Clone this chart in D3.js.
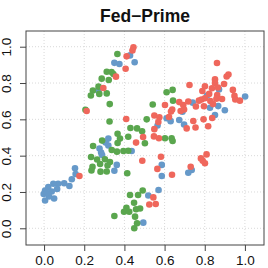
<!DOCTYPE html>
<html>
<head>
<meta charset="utf-8">
<script src="https://cdn.jsdelivr.net/npm/d3@7"></script>
<style>
  body { margin: 0; background: #fff; }
  svg text { font-family: "Liberation Sans", Arial, Helvetica, sans-serif; }
</style>
</head>
<body>
<div id="chart"></div>
<script>
const title = 'Fed\u2212Prime';
const ticks = [0, 0.2, 0.4, 0.6, 0.8, 1.0];

// [x, y] pairs per group
const redPts = [
  [0.445, 0.997], [0.440, 0.979], [0.411, 0.947], [0.406, 0.879], [0.358, 0.835],
  [0.295, 0.773], [0.212, 0.646], [0.409, 0.602], [0.493, 0.503], [0.458, 0.472],
  [0.547, 0.506], [0.572, 0.496], [0.861, 0.910], [0.918, 0.847], [0.909, 0.836],
  [0.851, 0.820], [0.851, 0.800], [0.896, 0.795], [0.801, 0.782], [0.724, 0.789],
  [0.836, 0.771], [0.866, 0.775], [0.788, 0.756], [0.822, 0.740], [0.862, 0.734],
  [0.940, 0.762], [0.948, 0.729], [0.952, 0.709], [0.975, 0.703], [0.784, 0.709],
  [0.771, 0.703], [0.801, 0.716], [0.718, 0.698], [0.756, 0.671], [0.796, 0.672],
  [0.858, 0.713], [0.886, 0.712], [0.828, 0.701], [0.841, 0.684], [0.673, 0.695],
  [0.693, 0.679], [0.697, 0.654], [0.680, 0.646], [0.602, 0.679], [0.638, 0.654],
  [0.632, 0.643], [0.549, 0.621], [0.574, 0.611], [0.569, 0.585], [0.549, 0.546],
  [0.743, 0.591], [0.794, 0.600], [0.837, 0.607], [0.817, 0.562], [0.710, 0.550],
  [0.754, 0.555], [0.582, 0.394], [0.489, 0.372], [0.564, 0.327], [0.637, 0.295],
  [0.809, 0.407], [0.781, 0.385], [0.790, 0.372], [0.801, 0.358], [0.730, 0.339],
  [0.544, 0.170], [0.524, 0.131], [0.556, 0.134], [0.176, 0.288], [0.622, 0.613]
];
const bluePts = [
  [0.428, 0.952], [0.451, 0.914], [0.350, 0.911], [0.375, 0.905], [0.270, 0.758],
  [1.001, 0.726], [0.871, 0.765], [0.811, 0.731], [0.740, 0.692], [0.867, 0.673],
  [0.826, 0.664], [0.900, 0.650], [0.851, 0.624], [0.689, 0.642], [0.610, 0.606],
  [0.630, 0.590], [0.673, 0.596], [0.565, 0.566], [0.697, 0.572], [0.586, 0.349],
  [0.586, 0.288], [0.735, 0.321], [0.718, 0.306], [0.436, 0.426], [0.570, 0.211],
  [0.519, 0.181], [0.494, 0.031], [0.320, 0.494], [0.306, 0.472], [0.320, 0.456],
  [0.276, 0.439], [0.284, 0.417], [0.289, 0.404], [0.350, 0.317], [0.362, 0.349],
  [0.154, 0.330], [0.157, 0.299], [0.138, 0.270], [0.100, 0.248], [0.126, 0.233],
  [0.070, 0.245], [0.046, 0.245], [0.021, 0.227], [0.065, 0.216], [0.038, 0.203],
  [0.005, 0.208], [-0.002, 0.189], [0.025, 0.175], [0.050, 0.164], [0.005, 0.153],
  [0.015, 0.194]
];
const greenPts = [
  [0.365, 0.960], [0.312, 0.862], [0.336, 0.861], [0.345, 0.850], [0.322, 0.817],
  [0.287, 0.824], [0.271, 0.780], [0.243, 0.759], [0.275, 0.740], [0.233, 0.731],
  [0.312, 0.743], [0.327, 0.684], [0.206, 0.653], [0.326, 0.588], [0.430, 0.552],
  [0.463, 0.550], [0.488, 0.534], [0.366, 0.521], [0.419, 0.504], [0.378, 0.494],
  [0.366, 0.470], [0.502, 0.468], [0.289, 0.483], [0.244, 0.453], [0.337, 0.431],
  [0.363, 0.422], [0.395, 0.426], [0.419, 0.427], [0.234, 0.393], [0.264, 0.379],
  [0.303, 0.380], [0.328, 0.365], [0.279, 0.354], [0.316, 0.346], [0.241, 0.338],
  [0.236, 0.318], [0.281, 0.312], [0.312, 0.313], [0.414, 0.303], [0.428, 0.183],
  [0.468, 0.183], [0.491, 0.208], [0.448, 0.141], [0.410, 0.113], [0.398, 0.091],
  [0.424, 0.091], [0.458, 0.105], [0.478, 0.109], [0.350, 0.068], [0.453, 0.064],
  [0.463, 0.028], [0.449, 0.000], [0.541, 0.682], [0.511, 0.600], [0.610, 0.749],
  [0.640, 0.762], [0.642, 0.703], [0.602, 0.496], [0.635, 0.496], [0.640, 0.481]
];

const groups = [
  { pts: bluePts, color: '#6699c9' },
  { pts: greenPts, color: '#5aa64e' },
  { pts: redPts, color: '#ef675c' }
];

const width = 268;
const height = 268;
const box = { left: 26, right: 264, top: 31, bottom: 245 };

const svg = d3.select('#chart')
  .append('svg')
  .attr('width', width)
  .attr('height', height);

const x = d3.scaleLinear().domain([-0.09, 1.095]).range([box.left, box.right]);
const y = d3.scaleLinear().domain([-0.092, 1.0865]).range([box.bottom, box.top]);

// dotted grid
svg.append('g')
  .selectAll('line.vx')
  .data(ticks)
  .enter()
  .append('line')
  .attr('x1', d => x(d)).attr('x2', d => x(d))
  .attr('y1', box.top).attr('y2', box.bottom)
  .attr('stroke', '#d9d9d9')
  .attr('stroke-dasharray', '1,2');

svg.append('g')
  .selectAll('line.hy')
  .data(ticks)
  .enter()
  .append('line')
  .attr('x1', box.left).attr('x2', box.right)
  .attr('y1', d => y(d)).attr('y2', d => y(d))
  .attr('stroke', '#d9d9d9')
  .attr('stroke-dasharray', '1,2');

// points
groups.forEach(g => {
  svg.append('g')
    .selectAll('circle')
    .data(g.pts)
    .enter()
    .append('circle')
    .attr('cx', d => x(d[0]))
    .attr('cy', d => y(d[1]))
    .attr('r', 3.3)
    .attr('fill', g.color);
});

// frame
svg.append('rect')
  .attr('x', box.left).attr('y', box.top)
  .attr('width', box.right - box.left)
  .attr('height', box.bottom - box.top)
  .attr('fill', 'none')
  .attr('stroke', '#444')
  .attr('stroke-width', 1);

// axes
const fmt = d3.format('.1f');
const xAxis = svg.append('g')
  .attr('transform', 'translate(0,' + box.bottom + ')')
  .call(d3.axisBottom(x).tickValues(ticks).tickFormat(fmt).tickSize(6).tickPadding(4));
xAxis.select('.domain').remove();
xAxis.selectAll('line').attr('stroke', '#444');
xAxis.selectAll('text').attr('font-size', 13.5).attr('fill', '#111')
  .style('font-family', '"Liberation Sans", Arial, sans-serif');

const yAxis = svg.append('g')
  .attr('transform', 'translate(' + box.left + ',0)')
  .call(d3.axisLeft(y).tickValues(ticks).tickFormat(fmt).tickSize(6).tickPadding(4));
yAxis.select('.domain').remove();
yAxis.selectAll('line').attr('stroke', '#444');
yAxis.selectAll('text')
  .attr('font-size', 13.5).attr('fill', '#111')
  .style('font-family', '"Liberation Sans", Arial, sans-serif')
  .attr('text-anchor', 'middle')
  .attr('dy', 0)
  .attr('x', 0)
  .attr('transform', 'translate(-15,0) rotate(-90)');

// title
svg.append('text')
  .attr('x', (box.left + box.right) / 2)
  .attr('y', 22)
  .attr('text-anchor', 'middle')
  .attr('font-size', 17.5)
  .attr('font-weight', 'bold')
  .attr('fill', '#111')
  .text(title);
</script>
</body>
</html>
